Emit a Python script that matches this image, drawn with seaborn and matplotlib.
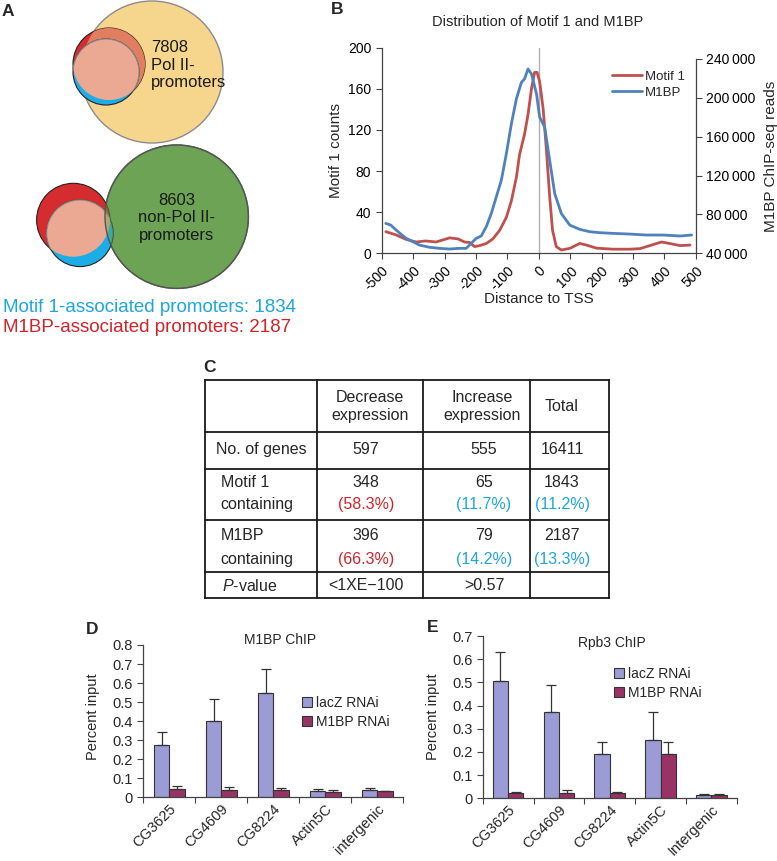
import numpy as np
import pandas as pd
import matplotlib
matplotlib.use("Agg")
import matplotlib.pyplot as plt
import seaborn as sns
from matplotlib.patches import Circle
from matplotlib.ticker import FuncFormatter

# ---------------- data ----------------
venn_pol2_label = "7808\nPol II-\npromoters"
venn_nonpol2_label = "8603\nnon-Pol II-\npromoters"
motif1_assoc = 1834
m1bp_assoc = 2187

# Panel B
motif1_x = [-487, -455, -422, -390, -360, -327, -305, -284, -257, -236, -220, -204, -188, -167,
            -146, -124, -103, -87, -71, -61, -45, -34, -23, -13, -5, 3, 14, 24, 35, 44, 56, 72,
            99, 131, 152, 184, 237, 290, 322, 354, 391, 418, 450, 482]
motif1_counts = [21, 18, 13.5, 11, 12, 11, 13, 15, 14, 11, 10.5, 6.5, 7.5, 9.5,
                 14, 22.5, 35, 51, 74, 96, 116, 135, 160, 176, 176, 167, 141, 103, 55, 22.5, 6.5, 3.2,
                 4.8, 9.6, 8, 5, 4, 4, 4.5, 7.5, 11, 9.5, 7.5, 8]
m1bp_x = [-487, -471, -454, -438, -422, -401, -380, -348, -316, -284, -252, -231, -215, -199,
          -183, -167, -151, -135, -119, -103, -87, -71, -55, -45, -34, -23, -7, 3, 19, 35, 51,
          72, 99, 131, 163, 195, 237, 290, 344, 397, 450, 487]
m1bp_reads = [70800, 69000, 63900, 59500, 55400, 52000, 48500, 46200, 45100, 44400, 45100, 45100,
              50300, 55400, 57800, 67400, 81000, 98100, 115200, 142600, 173300, 199000, 216000,
              219500, 229700, 224600, 204100, 180200, 169900, 135700, 101500, 81000, 69000, 64600,
              62200, 61200, 60500, 59800, 58800, 58800, 57800, 58800]

# Panel C
table_header = ["Decrease\nexpression", "Increase\nexpression", "Total"]
n_genes = ["597", "555", "16411"]
motif1_rows = ["348", "65", "1843"]
motif1_pct = ["(58.3%)", "(11.7%)", "(11.2%)"]
m1bp_rows = ["396", "79", "2187"]
m1bp_pct = ["(66.3%)", "(14.2%)", "(13.3%)"]
pvalues = ["<1XE\u2212100", ">0.57", ""]

# Panel D
genes_d = ["CG3625", "CG4609", "CG8224", "Actin5C", "intergenic"]
lacz_d = [0.275, 0.40, 0.55, 0.032, 0.037]
lacz_d_err = [0.07, 0.115, 0.125, 0.01, 0.01]
m1bp_d = [0.044, 0.037, 0.037, 0.027, 0.031]
m1bp_d_err = [0.017, 0.017, 0.011, 0.011, 0.004]

# Panel E
genes_e = ["CG3625", "CG4609", "CG8224", "Actin5C", "Intergenic"]
lacz_e = [0.507, 0.374, 0.192, 0.252, 0.016]
lacz_e_err = [0.125, 0.116, 0.05, 0.119, 0.004]
m1bp_e = [0.025, 0.025, 0.025, 0.192, 0.015]
m1bp_e_err = [0.003, 0.01, 0.003, 0.051, 0.004]

conditions = ["lacZ RNAi", "M1BP RNAi"]

# ---------------- style ----------------
sns.set_style("ticks")
plt.rcParams["font.family"] = ["Liberation Sans", "DejaVu Sans"]
plt.rcParams["axes.unicode_minus"] = False
plt.rcParams["mathtext.fontset"] = "custom"
plt.rcParams["mathtext.it"] = "Liberation Sans:italic"
plt.rcParams["mathtext.rm"] = "Liberation Sans"

RED_T = "#D2232A"
BLUE_T = "#1DA5E0"
AX_C = "#444444"

W, H = 777, 861
fig = plt.figure(figsize=(W / 100, H / 100), dpi=100)


def box(l, t, r, b):
    return [l / W, 1 - b / H, (r - l) / W, (b - t) / H]


ax0 = fig.add_axes([0, 0, 1, 1])
ax0.set_xlim(0, W)
ax0.set_ylim(H, 0)
ax0.axis("off")

# ---------------- Panel A: Venn ----------------
def clip_circle(c, r):
    cc = Circle(c, r, transform=ax0.transData)
    return cc

# top
big_c, big_r = (152, 72), 71
red_c, red_r = (109, 64), 36
blue_c, blue_r = (106, 72), 33
ax0.add_patch(Circle(big_c, big_r, fc="#F6D58C", ec="#8c8c8c", lw=1))
ax0.add_patch(Circle(red_c, red_r, fc="#D42C2F", ec="#222222", lw=0.8))
p = Circle(red_c, red_r, fc="#E07E5F", ec="none")
ax0.add_patch(p)
p.set_clip_path(clip_circle(big_c, big_r))
ax0.add_patch(Circle(blue_c, blue_r, fc="#1DADE6", ec="#222222", lw=0.8))
p = Circle(blue_c, blue_r, fc="#EBA994", ec="#8a8a8a", lw=0.8)
ax0.add_patch(p)
p.set_clip_path(clip_circle(red_c, red_r))
ax0.text(150.7, 65, venn_pol2_label, ha="left", va="center", fontsize=12, linespacing=1.2,
         color="#1a1a1a")

# bottom
g_c, g_r = (176.7, 216.7), 71.7
r2_c, r2_r = (73.3, 220), 36.7
b2_c, b2_r = (80, 233.3), 33.3
ax0.add_patch(Circle(g_c, g_r, fc="#6CA355", ec="#555555", lw=1))
ax0.add_patch(Circle(r2_c, r2_r, fc="#D42C2F", ec="#222222", lw=0.8))
ax0.add_patch(Circle(b2_c, b2_r, fc="#1DADE6", ec="#222222", lw=0.8))
p = Circle(b2_c, b2_r, fc="#EBA994", ec="#8a8a8a", lw=0.8)
ax0.add_patch(p)
p.set_clip_path(clip_circle(r2_c, r2_r))
ax0.add_patch(Circle(g_c, g_r, fc="#6CA355", ec="none", alpha=0.45))
ax0.add_patch(Circle(g_c, g_r, fc="none", ec="#555555", lw=1))
ax0.text(176.7, 218, venn_nonpol2_label, ha="center", va="center", fontsize=12, linespacing=1.2,
         color="#1a1a1a")

ax0.text(3, 308, f"Motif 1-associated promoters: {motif1_assoc}", ha="left", va="center",
         fontsize=13.5, color=BLUE_T)
ax0.text(3, 328, f"M1BP-associated promoters: {m1bp_assoc}", ha="left", va="center",
         fontsize=13.5, color=RED_T)

# panel letters
for letter, (lx, ly) in zip("ABCDE", [(8, 12), (337, 10), (210, 367), (92, 630), (433, 628)]):
    ax0.text(lx, ly, letter, ha="center", va="center", fontsize=12.5, fontweight="bold")

# ---------------- Panel C: table ----------------
col_edges = [204.5, 317, 423, 530, 609]
row_edges = [380, 431.7, 469.3, 520, 572.3, 597.7]
for yy in row_edges:
    ax0.plot([col_edges[0], col_edges[-1]], [yy, yy], color="#1a1a1a", lw=1.3, solid_capstyle="projecting")
for xx in col_edges:
    ax0.plot([xx, xx], [row_edges[0], row_edges[-1]], color="#1a1a1a", lw=1.3, solid_capstyle="projecting")

TF = 11.5
head_x = [370, 482, 562]
num_x = [366, 484, 562]
for hx, txt in zip(head_x, table_header):
    ax0.text(hx, 406.5, txt, ha="center", va="center", fontsize=TF, linespacing=1.25)
ax0.text(216, 449.5, "No. of genes", ha="left", va="center", fontsize=TF)
ax0.text(220.7, 482.3, "Motif 1", ha="left", va="center", fontsize=TF)
ax0.text(220.7, 505, "containing", ha="left", va="center", fontsize=TF)
ax0.text(220.7, 535.7, "M1BP", ha="left", va="center", fontsize=TF)
ax0.text(220.7, 559.5, "containing", ha="left", va="center", fontsize=TF)
ax0.text(221.7, 586, "$P$-value", ha="left", va="center", fontsize=TF)
pct_colors = [RED_T, BLUE_T, BLUE_T]
for i in range(3):
    ax0.text(num_x[i], 449.5, n_genes[i], ha="center", va="center", fontsize=TF)
    ax0.text(num_x[i], 482.3, motif1_rows[i], ha="center", va="center", fontsize=TF)
    ax0.text(num_x[i], 505, motif1_pct[i], ha="center", va="center", fontsize=TF, color=pct_colors[i])
    ax0.text(num_x[i], 535.7, m1bp_rows[i], ha="center", va="center", fontsize=TF)
    ax0.text(num_x[i], 559.5, m1bp_pct[i], ha="center", va="center", fontsize=TF, color=pct_colors[i])
    ax0.text(num_x[i], 586, pvalues[i], ha="center", va="center", fontsize=TF)

# ---------------- Panel B ----------------
axb = fig.add_axes(box(381.7, 47.7, 695.7, 253.3))
axb.axvline(0, color="#b0b0b0", lw=1, zorder=0)
sns.lineplot(x=motif1_x, y=motif1_counts, ax=axb, color="#C0504D", lw=2.0, legend=False)
axb.set_xlim(-500, 500)
axb.set_ylim(0, 200)
axb.set_xticks(range(-500, 501, 100))
axb.set_yticks(range(0, 201, 40))
axb.tick_params(labelsize=10, colors=AX_C, labelcolor="black", length=4, width=0.8)
for lab in axb.get_xticklabels():
    lab.set_rotation(45)
    lab.set_ha("right")
    lab.set_rotation_mode("anchor")
axb.set_ylabel("Motif 1 counts", fontsize=11)
axb.yaxis.set_label_coords(-0.123, 0.5)
axb.set_xlabel("Distance to TSS", fontsize=11)
axb.xaxis.set_label_coords(0.5, -0.19)
axb.spines["top"].set_visible(False)
axb.spines["right"].set_visible(False)
for s in ["left", "bottom"]:
    axb.spines[s].set_color(AX_C)
    axb.spines[s].set_linewidth(0.9)

axb2 = axb.twinx()
sns.lineplot(x=m1bp_x, y=m1bp_reads, ax=axb2, color="#4F81BD", lw=2.0, legend=False)
axb2.set_ylim(40000, 251600)
axb2.set_yticks(range(40000, 240001, 40000))
axb2.yaxis.set_major_formatter(FuncFormatter(lambda v, p: f"{int(v):,}".replace(",", "\u2009")))
axb2.tick_params(labelsize=10, colors=AX_C, labelcolor="black", length=4, width=0.8)
axb2.spines["right"].set_bounds(40000, 240000)
axb2.spines["right"].set_color(AX_C)
axb2.spines["right"].set_linewidth(0.9)
for s in ["top", "left", "bottom"]:
    axb2.spines[s].set_visible(False)
axb2.set_ylabel("M1BP ChIP-seq reads", fontsize=11)
axb2.yaxis.set_label_coords(1.2175, 0.47)
axb.text(0.495, 1.1265, "Distribution of Motif 1 and M1BP", transform=axb.transAxes,
         ha="center", va="center", fontsize=10.5)
handles = [axb.lines[-1], axb2.lines[-1]]
axb2.legend(handles, ["Motif 1", "M1BP"], loc="upper left", bbox_to_anchor=(0.733, 0.89),
            frameon=False, fontsize=9.5, handlelength=2.3, handletextpad=0.2, borderpad=0,
            borderaxespad=0, labelspacing=0.3)


# ---------------- Panels D & E ----------------
def bar_panel(bx, genes, lacz, lacz_err, m1bp, m1bp_err, ymax, title, title_xy, leg_xy, ylab_xy):
    df = pd.DataFrame({
        "gene": genes + genes,
        "condition": [conditions[0]] * len(genes) + [conditions[1]] * len(genes),
        "value": lacz + m1bp,
    })
    sns.barplot(data=df, x="gene", y="value", hue="condition", palette=["#9B9BD5", "#993366"],
                width=0.6, edgecolor="#333333", linewidth=0.8, errorbar=None, saturation=1, ax=bx)
    for cont, vals, errs in zip(bx.containers, [lacz, m1bp], [lacz_err, m1bp_err]):
        xs = [pt.get_x() + pt.get_width() / 2 for pt in cont]
        bx.errorbar(xs, vals, yerr=[np.zeros(len(vals)), errs], fmt="none", ecolor="#333333",
                    elinewidth=0.9, capsize=3.5, capthick=0.9, zorder=1)
    bx.set_xlim(-0.5, len(genes) - 0.5)
    bx.set_ylim(0, ymax)
    bx.set_yticks(np.round(np.arange(0, ymax + 0.001, 0.1), 1))
    bx.yaxis.set_major_formatter(FuncFormatter(lambda v, p: "0" if abs(v) < 1e-9 else f"{v:.1f}"))
    bx.set_xticks(np.arange(-0.5, len(genes), 1.0), minor=True)
    bx.tick_params(axis="x", which="major", length=0, pad=3, labelsize=10.5)
    bx.tick_params(axis="x", which="minor", length=4, width=0.8, color=AX_C)
    bx.tick_params(axis="y", length=4, width=0.8, color=AX_C, labelsize=10.5)
    for lab in bx.get_xticklabels():
        lab.set_rotation(45)
        lab.set_ha("right")
        lab.set_rotation_mode("anchor")
    sns.despine(ax=bx)
    for s in ["left", "bottom"]:
        bx.spines[s].set_color(AX_C)
        bx.spines[s].set_linewidth(0.9)
    bx.set_xlabel("")
    bx.set_ylabel("Percent input", fontsize=10.5)
    bx.yaxis.set_label_coords(*ylab_xy)
    h, l = bx.get_legend_handles_labels()
    if bx.get_legend() is not None:
        bx.get_legend().remove()
    bx.legend(h, l, loc="upper left", bbox_to_anchor=leg_xy, frameon=False, fontsize=10,
              handlelength=0.7, handleheight=0.7, handletextpad=0.3, borderpad=0,
              borderaxespad=0, labelspacing=0.35)
    bx.text(title_xy[0], title_xy[1], title, transform=bx.transAxes, ha="center", va="center",
            fontsize=10)


axd = fig.add_axes(box(143.3, 645, 403.3, 797.3))
bar_panel(axd, genes_d, lacz_d, lacz_d_err, m1bp_d, m1bp_d_err, 0.8, "M1BP ChIP",
          (0.526, 1.033), (0.61, 0.665), (-0.166, 0.53))

axe = fig.add_axes(box(482.7, 636, 736.7, 798.3))
bar_panel(axe, genes_e, lacz_e, lacz_e_err, m1bp_e, m1bp_e_err, 0.7, "Rpb3 ChIP",
          (0.508, 0.959), (0.517, 0.809), (-0.168, 0.503))

fig.savefig("out.png", dpi=100)
